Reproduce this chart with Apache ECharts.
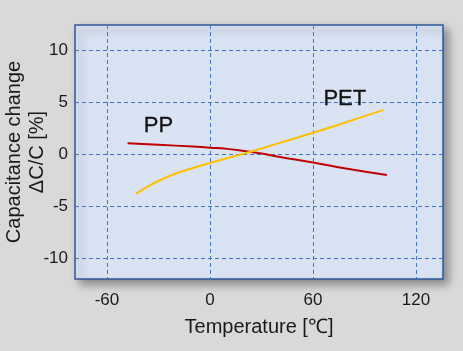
<!DOCTYPE html>
<html><head><meta charset="utf-8">
<script src="https://cdn.jsdelivr.net/npm/echarts@6/dist/echarts.min.js"></script>
<style>html,body{margin:0;padding:0;background:#d9d9d9;}#c{width:463px;height:351px;}</style>
</head><body><div id="c"></div>
<script>
const xTicks = [-60, 0, 60, 120];
const yTicks = [-10, -5, 0, 5, 10];
const ppX = [-48, -30, -10, 0, 10, 20, 30, 40, 60, 80, 103];
const ppY = [1.05, 0.9, 0.72, 0.62, 0.5, 0.3, 0.05, -0.25, -0.8, -1.4, -2.0];
const petX = [-43, -35, -25, -15, 0, 20, 40, 60, 80, 101];
const petY = [-3.8, -3.0, -2.2, -1.6, -0.85, 0.05, 1.05, 2.05, 3.1, 4.25];
const seriesNames = ['PP', 'PET'];
const labelPos = [[-30, 2.72], [78.5, 5.3]];

const chart = echarts.init(document.getElementById('c'));
const font = 'Liberation Sans, Arial, sans-serif';
const gridLine = {show: true, lineStyle: {color: '#4472c4', type: [4, 3], width: 1}};
chart.setOption({
  backgroundColor: '#d9d9d9',
  animation: false,
  grid: {left: 75, top: 25, right: 20, bottom: 72, containLabel: false, outerBoundsMode: 'none',
    show: true, backgroundColor: '#dae3f3',
    borderColor: '#2f5597', borderWidth: 1.5, shadowBlur: 8, shadowColor: 'rgba(0,0,0,0.35)', shadowOffsetX: 5, shadowOffsetY: 5},
  xAxis: {type: 'value', min: -78.6, max: 135.7,
    axisLine: {show: false}, axisTick: {show: false, customValues: xTicks},
    axisLabel: {customValues: xTicks, color: '#1a1a1a', fontSize: 17, fontFamily: font, margin: 13},
    splitLine: Object.assign({customValues: xTicks}, gridLine),
    name: 'Temperature [℃]', nameLocation: 'middle', nameGap: 38,
    nameTextStyle: {color: '#1a1a1a', fontSize: 20, fontFamily: font}},
  yAxis: {type: 'value', min: -12, max: 12.4,
    axisLine: {show: false}, axisTick: {show: false, customValues: yTicks},
    axisLabel: {customValues: yTicks, color: '#1a1a1a', fontSize: 17, fontFamily: font, margin: 7},
    splitLine: Object.assign({customValues: yTicks}, gridLine),
    name: 'Capacitance change\nΔC/C [%]', nameLocation: 'middle', nameGap: 26, nameMoveOverlap: false,
    nameTextStyle: {color: '#1a1a1a', fontSize: 20, fontFamily: font, lineHeight: 23}},
  series: [
    {name: seriesNames[0], type: 'line', smooth: true, symbol: 'none',
      lineStyle: {color: '#c00000', width: 2}, data: ppX.map((x, i) => [x, ppY[i]])},
    {name: seriesNames[1], type: 'line', smooth: true, symbol: 'none',
      lineStyle: {color: '#ffc000', width: 2}, data: petX.map((x, i) => [x, petY[i]])}
  ]
});
const g = seriesNames.map((n, i) => {
  const p = chart.convertToPixel({gridIndex: 0}, labelPos[i]);
  return {type: 'text', x: p[0], y: p[1], style: {text: n, fontSize: 22, fontFamily: font, fill: '#111',
    align: 'center', verticalAlign: 'middle', stroke: '#111', lineWidth: 0.3}};
});
chart.setOption({graphic: g});
</script></body></html>
